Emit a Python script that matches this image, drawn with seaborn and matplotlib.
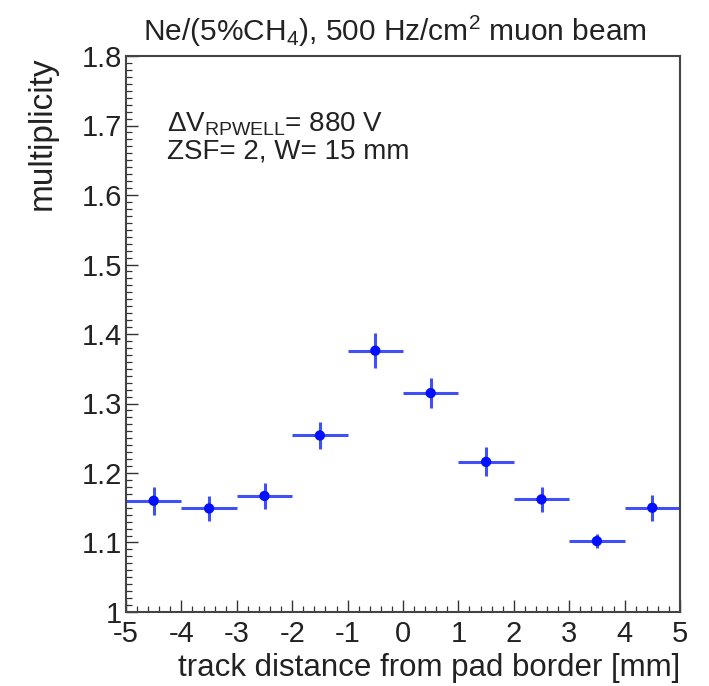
import numpy as np
import pandas as pd
import matplotlib
matplotlib.use("Agg")
import matplotlib.pyplot as plt
import seaborn as sns
from matplotlib.ticker import MultipleLocator

# bin centres and measured multiplicity
distance = [-4.5, -3.5, -2.5, -1.5, -0.5, 0.5, 1.5, 2.5, 3.5, 4.5]
multiplicity = [1.160, 1.149, 1.167, 1.254, 1.376, 1.315, 1.216, 1.162, 1.102, 1.150]
mult_err = [0.020, 0.018, 0.019, 0.019, 0.025, 0.022, 0.021, 0.018, 0.010, 0.019]
bin_half = [0.5] * 10
ytick_labels = ["1", "1.1", "1.2", "1.3", "1.4", "1.5", "1.6", "1.7", "1.8"]

df = pd.DataFrame({"distance": distance, "multiplicity": multiplicity,
                   "err": mult_err, "xerr": bin_half})

sns.set_style("ticks")
plt.rcParams['font.family'] = ['Liberation Sans', 'DejaVu Sans']
plt.rcParams['mathtext.default'] = 'regular'
plt.rcParams['axes.unicode_minus'] = False

fig = plt.figure(figsize=(7.09, 6.86), dpi=100)
ax = fig.add_axes([126 / 709, 1 - 612 / 686, 554 / 709, 556 / 686])

ax.errorbar(df["distance"], df["multiplicity"], xerr=df["xerr"], yerr=df["err"],
            fmt="none", ecolor="#4150f5", elinewidth=2.2, capsize=0, zorder=2)
sns.scatterplot(data=df, x="distance", y="multiplicity", color="#0010ff",
                s=55, edgecolor="none", ax=ax, zorder=3)

ax.set_xlim(-5, 5)
ax.set_ylim(1.0, 1.8)
ax.xaxis.set_major_locator(MultipleLocator(1))
ax.xaxis.set_minor_locator(MultipleLocator(0.2))
ax.yaxis.set_minor_locator(MultipleLocator(0.01))
ax.set_yticks(np.round(np.arange(1.0, 1.81, 0.1), 1))
ax.set_yticklabels(ytick_labels)
ax.tick_params(which="major", direction="in", length=8.5, width=1.0, labelsize=21,
               color="#333333", labelcolor="#222222")
ax.tick_params(axis="x", which="major", pad=6)
ax.tick_params(axis="y", which="major", pad=3)
ax.tick_params(which="minor", direction="in", length=4.5, width=0.9, color="#333333")
for s in ax.spines.values():
    s.set_color("#444444")
    s.set_linewidth(1.5)

ax.set_xlabel("track distance from pad border [mm]", fontsize=22.5, color="#222222",
              ha="right")
ax.xaxis.set_label_coords(1.0, -0.073)
ax.set_ylabel("multiplicity", fontsize=24, color="#222222", ha="right")
ax.yaxis.set_label_coords(-0.123, 1.0)

fig.text(0.557, 1 - 41 / 686, r"Ne/(5%CH$_4$), 500 Hz/cm$^2$ muon beam",
         fontsize=21.5, color="#222222", ha="center", va="baseline")

ax.text(0.074, 0.865, r"$\Delta$V$_{RPWELL}$= 880 V", transform=ax.transAxes,
        fontsize=20, color="#222222", va="baseline")
ax.text(0.074, 0.8165, "ZSF= 2, W= 15 mm", transform=ax.transAxes,
        fontsize=20, color="#222222", va="baseline")

fig.savefig("out.png", dpi=100)
